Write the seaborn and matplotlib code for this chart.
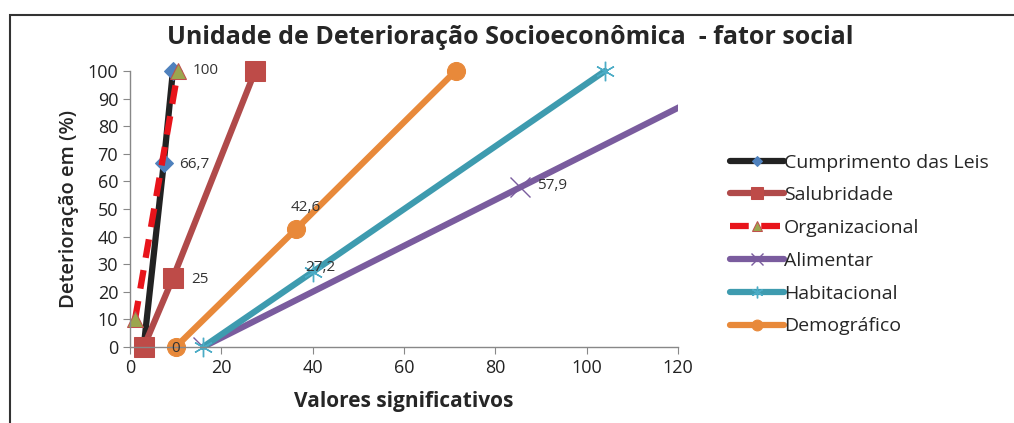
import numpy as np
import pandas as pd
import seaborn as sns
import matplotlib
matplotlib.use("Agg")
import matplotlib.pyplot as plt
from matplotlib.patches import Rectangle

# dados
series = ["Cumprimento das Leis", "Salubridade", "Organizacional",
          "Alimentar", "Habitacional", "Demográfico"]
x_leis = [3, 7.4, 9.4]
y_leis = [0, 66.7, 100]
x_salub = [3, 9.4, 27.4]
y_salub = [0, 25, 100]
x_org = [1.1, 10.5]
y_org = [10, 100]
x_alim = [16, 85.5, 136]
y_alim = [0, 57.9, 100]
x_habit = [16, 40, 104]
y_habit = [0, 27.2, 100]
x_demo = [10, 36.3, 71.3]
y_demo = [0, 42.6, 100]

labels = [("100", 9.4, 100, 14, 0), ("66,7", 7.4, 66.7, 11, -1),
          ("25", 9.4, 25, 13, -1), ("0", 10, 0, -3, -1),
          ("42,6", 36.3, 42.6, -4, 16), ("27,2", 40, 27.2, -5, 3),
          ("57,9", 85.5, 57.9, 12, 1)]

sns.set_style("white")
plt.rcParams['font.family'] = ['Open Sans', 'DejaVu Sans']

fig = plt.figure(figsize=(10.14, 4.23), dpi=100)
ax = fig.add_axes([130/1014, 1-347/423, (678-130)/1014, (347-71)/423])

lw = 4.5
sns.lineplot(x=x_leis, y=y_leis, ax=ax, color="#222222", linewidth=lw,
             marker="D", markersize=9, markerfacecolor="#4F81BD",
             markeredgecolor="#4F81BD", label=series[0], clip_on=False)
sns.lineplot(x=x_salub, y=y_salub, ax=ax, color="#B04A4A", linewidth=lw,
             marker="s", markersize=14, markerfacecolor="#BE4B48",
             markeredgecolor="#BE4B48", label=series[1], clip_on=False)
sns.lineplot(x=x_org, y=y_org, ax=ax, color="#E8141B", linewidth=lw,
             linestyle=(0, (3, 2)), marker="^", markersize=12,
             markerfacecolor="#9BA64E", markeredgecolor="#C0504D",
             label=series[2], clip_on=False)
sns.lineplot(x=x_alim, y=y_alim, ax=ax, color="#7A5C9E", linewidth=lw,
             marker="x", markersize=14, markeredgewidth=1,
             markeredgecolor="#7A5C9E", label=series[3])
sns.lineplot(x=x_habit, y=y_habit, ax=ax, color="#3E9BAF", linewidth=lw,
             marker=(6, 2, 0), markersize=14, markeredgewidth=1,
             markeredgecolor="#4BACC6", label=series[4], clip_on=False)
sns.lineplot(x=x_demo, y=y_demo, ax=ax, color="#E8893A", linewidth=lw,
             marker="o", markersize=13, markerfacecolor="#E8893A",
             markeredgecolor="#E8893A", label=series[5], clip_on=False)

for txt, xv, yv, dx, dy in labels:
    ax.annotate(txt, (xv, yv), xytext=(dx, dy), textcoords="offset points",
                ha="left", va="center", fontsize=11, color="#333333")

ax.set_xlim(0, 120)
ax.set_ylim(0, 100)
ax.set_xticks(np.arange(0, 121, 20))
ax.set_yticks(np.arange(0, 101, 10))
ax.tick_params(axis="both", labelsize=13, colors="#222222", length=5,
               direction="out", left=True, bottom=True, color="#888888")
for s in ["top", "right"]:
    ax.spines[s].set_visible(False)
for s in ["left", "bottom"]:
    ax.spines[s].set_color("#888888")
    ax.spines[s].set_linewidth(1)

ax.set_xlabel("Valores significativos", fontsize=15, fontweight="bold",
              labelpad=10)
ax.set_ylabel("Deterioração em (%)", fontsize=14.5, fontweight="semibold",
              labelpad=6)

fig.text(510/1014, 1-37/423, "Unidade de Deterioração Socioeconômica  - fator social",
         ha="center", va="center", fontsize=18, fontweight="bold")

leg = ax.legend(loc="upper left", bbox_to_anchor=(712/1014, 1-136/423),
                bbox_transform=fig.transFigure, frameon=False, fontsize=14,
                handlelength=2.8, handletextpad=0.0, labelspacing=0.76,
                markerscale=0.6)

fig.patches.append(Rectangle((10/1014, -0.2), 1.2, 1-15/423+0.2,
                             transform=fig.transFigure, fill=False,
                             edgecolor="#333333", linewidth=1.5))

fig.savefig("out.png", dpi=100)
